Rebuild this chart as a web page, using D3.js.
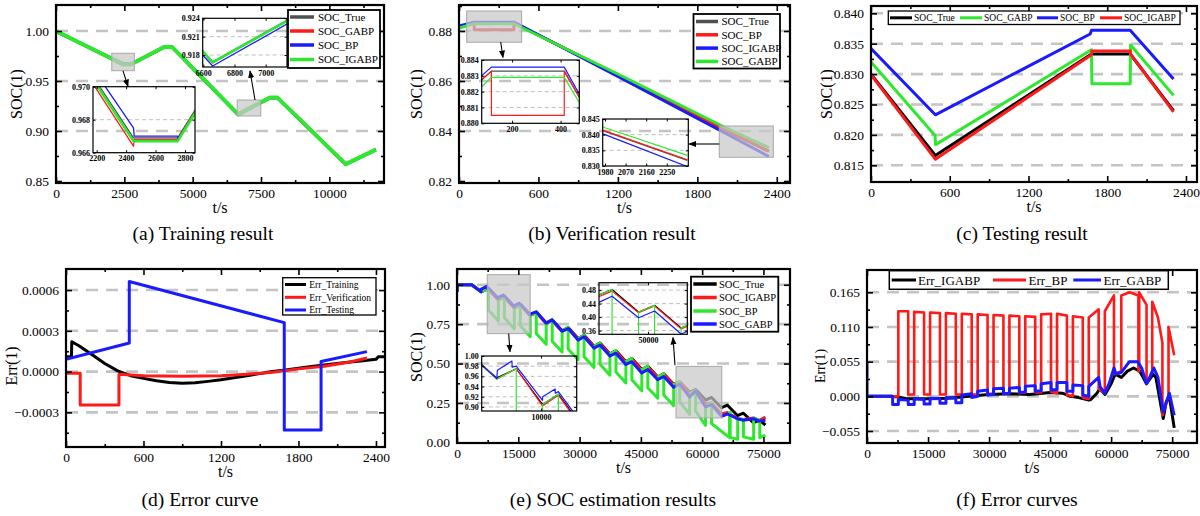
<!DOCTYPE html>
<html><head><meta charset="utf-8">
<script src="https://cdn.jsdelivr.net/npm/d3@7"></script>
<style>body{margin:0;background:#fff;}svg{display:block;}</style>
</head><body>
<script>
const FONT='"Liberation Serif","Times New Roman",serif';
const C_RED='#ff1a1a', C_BLUE='#1a1aff', C_GREEN='#2ee82e', C_BLACK='#000', C_GRAY='#4f4f4f';

// ---------------- (a) Training result ----------------
const aXTicks=[0,2500,5000,7500,10000];
const aXMinor=[1250,3750,6250,8750,11250];
const aYTicks=[0.85,0.90,0.95,1.00];
const aYMinor=[0.875,0.925,0.975];
const aTrue=[[0,1.0],[2450,0.9669],[2750,0.9669],[3950,0.9840],[4250,0.9840],[6660,0.9169],[7830,0.9335],[8100,0.9335],[10600,0.8670],[11700,0.8815]];
const aGABP=[[0,1.0],[2450,0.9664],[2455,0.9668],[2750,0.9668],[3950,0.9839],[4250,0.9839],[6660,0.9167],[7830,0.9334],[8100,0.9334],[10600,0.8668],[11700,0.8814]];
const aBP=[[0,0.9995],[2450,0.9675],[2455,0.9670],[2750,0.9670],[2755,0.9668],[3950,0.9837],[4250,0.9837],[6660,0.9162],[7830,0.9330],[8100,0.9330],[10600,0.8665],[11700,0.8810]];
const aIGABP=[[0,1.0],[2450,0.9667],[2750,0.9667],[3950,0.9839],[4250,0.9839],[6660,0.9168],[7830,0.9334],[8100,0.9334],[10600,0.8669],[11700,0.8814]];
const aLegend=['SOC_True','SOC_GABP','SOC_BP','SOC_IGABP'];

// ---------------- (b) Verification result ----------------
const bXTicks=[0,600,1200,1800,2400];
const bXMinor=[300,900,1500,2100];
const bYTicks=[0.82,0.84,0.86,0.88];
const bYMinor=[0.83,0.85,0.87,0.89];
const bTrue=[[0,0.8817],[115,0.8833],[415,0.8833],[1200,0.8623],[1980,0.8410],[2340,0.8318]];
const bBP=[[0,0.8817],[115,0.8833],[115,0.8805],[415,0.8805],[415,0.8833],[1200,0.8624],[1980,0.8412],[2340,0.8320]];
const bIGABP=[[0,0.8820],[115,0.88355],[415,0.88355],[1200,0.8618],[1980,0.8400],[2340,0.8298]];
const bGABP=[[0,0.8812],[115,0.8829],[415,0.8829],[1200,0.8628],[1980,0.8422],[2340,0.8334]];
const bLegend=['SOC_True','SOC_BP','SOC_IGABP','SOC_GABP'];

// ---------------- (c) Testing result ----------------
const cXTicks=[0,600,1200,1800,2400];
const cXMinor=[300,900,1500,2100];
const cYTicks=[0.815,0.820,0.825,0.830,0.835,0.840];
const cYMinor=[0.8175,0.8225,0.8275,0.8325,0.8375];
const cTrue=[[0,0.8300],[490,0.8166],[1680,0.8333],[1975,0.8333],[2305,0.8240]];
const cGABP=[[0,0.8320],[488,0.8199],[492,0.8184],[1680,0.8340],[1683,0.8284],[1975,0.8284],[1978,0.8348],[2305,0.8265]];
const cBP=[[0,0.8342],[490,0.8233],[1670,0.8366],[1680,0.8372],[1975,0.8372],[2305,0.8292]];
const cIGABP=[[0,0.8299],[490,0.8160],[1680,0.8332],[1683,0.8338],[1975,0.8338],[1978,0.8333],[2305,0.8238]];
const cLegend=['SOC_True','SOC_GABP','SOC_BP','SOC_IGABP'];

// ---------------- (d) Error curve ----------------
const dXTicks=[0,600,1200,1800,2400];
const dXMinor=[300,900,1500,2100];
const dYTicks=[-0.0003,0,0.0003,0.0006];
const dYMinor=[-0.00045,-0.00015,0.00015,0.00045];
const dTraining=[[0,0.00011],[42,0.00011],[45,0.00022],[100,0.00019],[200,0.000125],[300,0.00006],[400,0.000005],[500,-0.00003],[600,-0.00005],[700,-0.000068],[800,-0.00008],[900,-0.000085],[1000,-0.000082],[1100,-0.000072],[1200,-0.00006],[1300,-0.000045],[1400,-0.00003],[1500,-0.000015],[1600,0],[1700,0.000012],[1800,0.000025],[1900,0.000037],[2000,0.000048],[2100,0.00006],[2200,0.00007],[2300,0.00008],[2400,0.00009],[2420,0.00011],[2470,0.00011]];
const dVerification=[[0,-0.000012],[110,-0.000012],[110,-0.000245],[410,-0.000245],[410,-0.00002],[600,-0.00003],[900,-0.000035],[1200,-0.00003],[1400,-0.00002],[1600,-0.000005],[1800,0.00002],[2000,0.00004],[2200,0.00007],[2330,0.0001]];
const dTesting=[[0,0.00009],[490,0.00021],[490,0.000663],[1690,0.00036],[1690,-0.00043],[1975,-0.00043],[1975,0.000074],[2330,0.000147]];
const dLegend=['Err_Training','Err_Verification','Err_Testing'];

// ---------------- (e) SOC estimation results ----------------
const eXTicks=[0,15000,30000,45000,60000,75000];
const eXMinor=[7500,22500,37500,52500,67500];
const eYTicks=[0,0.25,0.5,0.75,1.0];
const eYMinor=[0.125,0.375,0.625,0.875];
const eTrue=[[0,0.955],[150,1.0],[3600,1.0],[5900,0.957],[7700,0.975],[10130,0.905],[11600,0.925],[14030,0.855],[15500,0.875],[17930,0.806],[19400,0.826],[21830,0.757],[23300,0.777],[25730,0.708],[27200,0.728],[29630,0.659],[31100,0.679],[33530,0.610],[35000,0.630],[37430,0.561],[38900,0.581],[41330,0.512],[42800,0.532],[45230,0.462],[46700,0.482],[49130,0.415],[50600,0.435],[53030,0.368],[54500,0.385],[56930,0.318],[58400,0.335],[60830,0.268],[62300,0.285],[64730,0.220],[66200,0.236],[68630,0.170],[70100,0.185],[72530,0.125],[74000,0.140],[75500,0.110]];
const eIGABP=[[0,0.955],[150,1.0],[3600,1.0],[5900,0.955],[7700,0.975],[10130,0.902],[11600,0.923],[14030,0.852],[15500,0.873],[17930,0.803],[19400,0.824],[21830,0.754],[23300,0.774],[25730,0.704],[27200,0.724],[29630,0.655],[31100,0.675],[33530,0.606],[35000,0.626],[37430,0.557],[38900,0.577],[41330,0.507],[42800,0.527],[45230,0.457],[46700,0.477],[49130,0.413],[50600,0.433],[53030,0.365],[54500,0.385],[56930,0.315],[58400,0.325],[60830,0.245],[62300,0.250],[64730,0.180],[66200,0.190],[68630,0.150],[70100,0.145],[72530,0.155],[74000,0.140],[75500,0.160]];
const eBP=[[0,0.955],[150,1.0],[3600,1.0],[5900,0.955],[7700,0.975],[7700,0.840],[10130,0.770],[10130,0.905],[11600,0.925],[11600,0.790],[14030,0.720],[14030,0.855],[15500,0.875],[15500,0.740],[17930,0.671],[17930,0.806],[19400,0.826],[19400,0.691],[21830,0.622],[21830,0.757],[23300,0.777],[23300,0.642],[25730,0.573],[25730,0.708],[27200,0.728],[27200,0.593],[29630,0.524],[29630,0.659],[31100,0.679],[31100,0.544],[33530,0.475],[33530,0.610],[35000,0.630],[35000,0.495],[37430,0.426],[37430,0.561],[38900,0.581],[38900,0.446],[41330,0.377],[41330,0.512],[42800,0.532],[42800,0.397],[45230,0.327],[45230,0.462],[46700,0.482],[46700,0.347],[49130,0.280],[49130,0.415],[50600,0.435],[50600,0.300],[53030,0.233],[53030,0.368],[54500,0.385],[54500,0.258],[56930,0.178],[56930,0.308],[58400,0.330],[58400,0.200],[60830,0.108],[60830,0.233],[62300,0.250],[62300,0.120],[66700,0.030],[66700,0.190],[66860,0.190],[66860,0.030],[68700,0.020],[68700,0.150],[70100,0.145],[70100,0.035],[72600,0.020],[72600,0.155],[74100,0.140],[74100,0.030],[75500,0.045]];
const eGABP=[[0,0.955],[150,1.0],[3600,1.0],[5900,0.955],[5950,0.972],[7300,0.990],[7320,0.978],[7700,0.980],[10130,0.913],[10150,0.920],[11300,0.935],[11320,0.927],[11600,0.930],[14030,0.860],[14050,0.868],[15200,0.882],[15220,0.875],[15500,0.878],[17930,0.810],[17950,0.815],[19400,0.828],[21830,0.757],[23300,0.777],[25730,0.705],[27200,0.722],[29630,0.649],[31100,0.670],[33530,0.598],[35000,0.618],[37430,0.548],[38900,0.566],[41330,0.494],[42800,0.512],[45230,0.440],[46700,0.462],[49130,0.398],[50600,0.418],[53030,0.350],[54500,0.370],[56930,0.288],[58400,0.325],[60830,0.225],[62300,0.240],[64730,0.165],[66200,0.180],[68630,0.150],[70100,0.140],[72530,0.150],[74000,0.135],[75500,0.140]];
const eLegend=['SOC_True','SOC_IGABP','SOC_BP','SOC_GABP'];

// ---------------- (f) Error curves ----------------
const fXTicks=[0,15000,30000,45000,60000,75000];
const fXMinor=[7500,22500,37500,52500,67500];
const fYTicks=[-0.055,0,0.055,0.110,0.165];
const fYMinor=[-0.0275,0.0275,0.0825,0.1375];
const fIGABP=[[0,0],[6000,0],[7700,-0.001],[10000,-0.004],[15000,-0.004],[20000,-0.003],[25000,0],[30000,0.003],[35000,0.004],[40000,0.003],[45000,0.006],[48000,0.005],[50000,0.0],[52000,-0.002],[54500,-0.006],[55000,-0.005],[56500,0.005],[57200,0.012],[58500,0.003],[60000,0.02],[61000,0.035],[62500,0.03],[64000,0.04],[65500,0.045],[67000,0.04],[68700,0.02],[70300,0.035],[71000,0.03],[72800,-0.035],[73500,-0.01],[74300,0.0],[75500,-0.05]];
const fBP=[[0,0],[7700,0],[7700,0.135],[10130,0.135],[10130,0.003],[11600,0.003],[11600,0.134],[14030,0.133],[14030,0.003],[15500,0.003],[15500,0.133],[17930,0.132],[17930,0.003],[19400,0.003],[19400,0.132],[21830,0.131],[21830,0.003],[23300,0.003],[23300,0.131],[25730,0.130],[25730,0.003],[27200,0.003],[27200,0.130],[29630,0.129],[29630,0.004],[31100,0.004],[31100,0.129],[33530,0.128],[33530,0.004],[35000,0.005],[35000,0.128],[37430,0.127],[37430,0.005],[38900,0.006],[38900,0.127],[41330,0.126],[41330,0.006],[42800,0.006],[42800,0.130],[45230,0.131],[45230,0.007],[46700,0.005],[46700,0.131],[49130,0.128],[49130,0.002],[50600,0],[50600,0.127],[53030,0.125],[53030,-0.002],[54500,-0.004],[54500,0.125],[56930,0.138],[56930,0.012],[58450,0.005],[58450,0.135],[60700,0.160],[60700,0.035],[62500,0.040],[62500,0.160],[64500,0.165],[66700,0.160],[66700,0.040],[66900,0.040],[66900,0.165],[68700,0.145],[68700,0.020],[70100,0.040],[70100,0.150],[71500,0.125],[72600,0.085],[72600,-0.030],[74100,0],[74100,0.110],[75500,0.065]];
const fGABP=[[0,0.055],[0,0],[6300,0],[6300,-0.013],[7700,-0.013],[7700,-0.005],[10130,-0.006],[10130,-0.013],[11600,-0.013],[11600,-0.004],[14030,-0.005],[14030,-0.012],[15500,-0.012],[15500,-0.003],[17930,-0.004],[17930,-0.011],[19400,-0.011],[19400,-0.002],[21830,-0.003],[21830,-0.010],[23300,-0.010],[23300,0.002],[25730,0.004],[25730,-0.002],[27200,0.0],[27200,0.008],[29630,0.010],[29630,0.002],[31100,0.003],[31100,0.012],[33530,0.013],[33530,0.004],[35000,0.005],[35000,0.013],[37430,0.014],[37430,0.006],[38900,0.007],[38900,0.016],[41330,0.017],[41330,0.008],[42800,0.009],[42800,0.020],[45230,0.022],[45230,0.010],[46700,0.011],[46700,0.022],[49130,0.022],[49130,0.008],[50600,0.008],[50600,0.018],[53030,0.017],[53030,0.002],[54500,0.0],[54500,0.016],[56930,0.030],[57300,0.015],[58450,0.005],[59500,0.020],[60700,0.045],[61200,0.035],[62500,0.038],[64500,0.055],[66500,0.055],[67500,0.045],[68700,0.020],[69500,0.030],[70500,0.045],[71500,0.030],[72800,-0.025],[73500,-0.010],[74300,0.005],[75500,-0.030]];
const fLegend=['Err_IGABP','Err_BP','Err_GABP'];

const captions=['(a) Training result','(b) Verification result','(c) Testing result','(d) Error curve','(e) SOC estimation results','(f) Error curves'];

// ======================================================
const svg=d3.select('body').append('svg').attr('width',1200).attr('height',516);
svg.append('rect').attr('width',1200).attr('height',516).attr('fill','#fff');
const defs=svg.append('defs');
defs.append('marker').attr('id','arr').attr('viewBox','0 0 10 10').attr('refX',9).attr('refY',5)
  .attr('markerWidth',7).attr('markerHeight',7).attr('orient','auto')
  .append('path').attr('d','M0,1 L10,5 L0,9 Z').attr('fill','#000');
let clipN=0;

function axes(g,x,y,p,o){
  const mk=(gen,vals,size,fmt,tr,pad)=>{
    const a=g.append('g').attr('transform',tr).call(gen.tickValues(vals).tickSize(-size).tickPadding(pad).tickFormat(fmt));
    a.select('.domain').remove();
    a.selectAll('line').attr('stroke','#000').attr('stroke-width',o.lw);
    a.selectAll('text').attr('font-family',FONT).attr('font-size',o.fs).attr('font-weight',o.bold?'bold':'normal').attr('fill','#000');
    return a;
  };
  const none=()=>'';
  mk(d3.axisBottom(x),p.xTicks,o.maj,p.xFmt,`translate(0,${p.B})`,o.padX);
  mk(d3.axisTop(x),p.xTicks,o.maj,none,`translate(0,${p.T})`,0);
  mk(d3.axisLeft(y),p.yTicks,o.maj,p.yFmt,`translate(${p.L},0)`,o.padY);
  mk(d3.axisRight(y),p.yTicks,o.maj,none,`translate(${p.R},0)`,0);
  if(p.xMinor){
    mk(d3.axisBottom(x),p.xMinor.filter(v=>v<=p.xDomain[1]),o.min,none,`translate(0,${p.B})`,0);
    mk(d3.axisTop(x),p.xMinor.filter(v=>v<=p.xDomain[1]),o.min,none,`translate(0,${p.T})`,0);
  }
  if(p.yMinor){
    mk(d3.axisLeft(y),p.yMinor,o.min,none,`translate(${p.L},0)`,0);
    mk(d3.axisRight(y),p.yMinor,o.min,none,`translate(${p.R},0)`,0);
  }
  g.append('rect').attr('x',p.L).attr('y',p.T).attr('width',p.R-p.L).attr('height',p.B-p.T)
    .attr('fill','none').attr('stroke','#000').attr('stroke-width',o.frame);
}

function drawSeries(g,x,y,series,cid,wKey){
  const line=d3.line().x(d=>x(d[0])).y(d=>y(d[1]));
  const sg=g.append('g').attr('clip-path',`url(#${cid})`);
  series.forEach(s=>sg.append('path').attr('d',line(s.data)).attr('fill','none')
    .attr('stroke',s.color).attr('stroke-width',s[wKey]).attr('stroke-linejoin','round'));
}

function panel(p){
  const x=d3.scaleLinear().domain(p.xDomain).range([p.L,p.R]);
  const y=d3.scaleLinear().domain(p.yDomain).range([p.B,p.T]);
  const g=svg.append('g');
  const cid='c'+(clipN++);
  defs.append('clipPath').attr('id',cid).append('rect').attr('x',p.L).attr('y',p.T).attr('width',p.R-p.L).attr('height',p.B-p.T);
  g.append('g').selectAll('line').data(p.grid).join('line')
    .attr('x1',p.L).attr('x2',p.R).attr('y1',d=>y(d)).attr('y2',d=>y(d))
    .attr('stroke','#c4c4c4').attr('stroke-width',2.6).attr('stroke-dasharray','12,8');
  drawSeries(g,x,y,p.series,cid,'w');
  (p.boxes||[]).forEach(b=>g.append('rect').attr('x',x(b[0])).attr('y',y(b[3])).attr('width',x(b[1])-x(b[0])).attr('height',y(b[2])-y(b[3]))
    .attr('fill','#c8c8c8').attr('fill-opacity',0.72).attr('stroke','#a8a8a8').attr('stroke-width',1));
  (p.arrows||[]).forEach(a=>g.append('line').attr('x1',x(a[0])).attr('y1',y(a[1])).attr('x2',x(a[2])).attr('y2',y(a[3]))
    .attr('stroke','#000').attr('stroke-width',1.1).attr('marker-end','url(#arr)'));
  axes(g,x,y,p,{maj:6,min:3,lw:1.6,fs:13.5,padX:5,padY:7,frame:2.2});
  // axis titles
  g.append('text').attr('x',(p.L+p.R)/2).attr('y',p.B+30).attr('text-anchor','middle')
    .attr('font-family',FONT).attr('font-size',16).text('t/s');
  g.append('text').attr('transform',`translate(${p.ylx},${p.yly}) rotate(-90)`).attr('text-anchor','middle')
    .attr('dy','0.35em').attr('font-family',FONT).attr('font-size',p.ylfs||16).text(p.ylabel);
  g.append('text').attr('x',p.capX).attr('y',p.capY).attr('text-anchor','middle')
    .attr('font-family',FONT).attr('font-size',19.5).text(p.caption);
  (p.insets||[]).forEach(ins=>inset(ins,p.series));
  if(p.legend) legend(p.legend,p.series);
  return {x,y};
}

function inset(q,series){
  const x=d3.scaleLinear().domain(q.xDomain).range([q.L,q.R]);
  const y=d3.scaleLinear().domain(q.yDomain).range([q.B,q.T]);
  const g=svg.append('g');
  const cid='c'+(clipN++);
  defs.append('clipPath').attr('id',cid).append('rect').attr('x',q.L).attr('y',q.T).attr('width',q.R-q.L).attr('height',q.B-q.T);
  g.append('g').selectAll('line').data(q.grid).join('line')
    .attr('x1',q.L).attr('x2',q.R).attr('y1',d=>y(d)).attr('y2',d=>y(d))
    .attr('stroke','#b8b8b8').attr('stroke-width',0.9).attr('stroke-dasharray','4,3');
  drawSeries(g,x,y,series,cid,'wi');
  axes(g,x,y,q,{maj:2.5,min:1.5,lw:1,fs:8,bold:true,padX:3,padY:3,frame:1.2});
}

function legend(L,series){
  const g=svg.append('g');
  g.append('rect').attr('x',L.x).attr('y',L.y).attr('width',L.w).attr('height',L.h)
    .attr('fill','#fff').attr('stroke','#000').attr('stroke-width',L.bw||1.5);
  L.items.forEach((it,i)=>{
    const s=series[L.order[i]];
    g.append('line').attr('x1',it[0]).attr('x2',it[1]).attr('y1',it[3]).attr('y2',it[3])
      .attr('stroke',s.color).attr('stroke-width',L.lw||3);
    g.append('text').attr('x',it[2]).attr('y',it[3]).attr('dy','0.35em')
      .attr('font-family',FONT).attr('font-size',L.fs).text(L.labels[i]);
  });
}

const f2=d3.format('.2f'), f3=d3.format('.3f'), f4=d3.format('.4f'), fd=d3.format('d');

// (a)
panel({L:56,R:384,T:5,B:183,xDomain:[0,12000],yDomain:[0.848,1.026],
  xTicks:aXTicks,xMinor:aXMinor,yTicks:aYTicks,yMinor:aYMinor,xFmt:fd,yFmt:f2,grid:[0.90,0.95,1.00],
  series:[{data:aTrue,color:C_GRAY,w:3,wi:1.3},{data:aGABP,color:C_RED,w:3,wi:1.3},{data:aBP,color:C_BLUE,w:3,wi:1.3},{data:aIGABP,color:C_GREEN,w:4,wi:2.6}],
  boxes:[[2040,2865,0.9603,0.9777],[6630,7490,0.915,0.931]],
  arrows:[[2451,0.9602,2634,0.9445],[7281,0.931,7098,0.960]],
  ylabel:'SOC(1)',ylx:16,yly:94,caption:captions[0],capX:203,capY:240,
  insets:[
    {L:93,R:195,T:86.7,B:152.7,xDomain:[2175,2868],yDomain:[0.966,0.970],xTicks:[2200,2400,2600,2800],yTicks:[0.966,0.968,0.970],xFmt:fd,yFmt:f3,grid:[0.966,0.968]},
    {L:202.7,R:287,T:18.3,B:67,xDomain:[6596,7137],yDomain:[0.91604,0.924],xTicks:[6600,6800,7000],yTicks:[0.918,0.921,0.924],xFmt:fd,yFmt:f3,grid:[0.918,0.921]}
  ],
  legend:{x:288,y:10,w:92,h:58,fs:11,lw:3.5,bw:1.8,order:[0,1,2,3],labels:aLegend,
    items:[[290,314,318,17],[290,314,318,31],[290,314,318,45],[290,314,318,59.5]]}
});

// (b)
panel({L:459,R:790,T:5,B:183,xDomain:[0,2500],yDomain:[0.8192,0.8904],
  xTicks:bXTicks,xMinor:bXMinor,yTicks:bYTicks,yMinor:bYMinor,xFmt:fd,yFmt:f2,grid:[0.84,0.86,0.88],
  series:[{data:bTrue,color:C_GRAY,w:3,wi:1.2},{data:bBP,color:C_RED,w:3,wi:1.2},{data:bIGABP,color:C_BLUE,w:3,wi:1.2},{data:bGABP,color:C_GREEN,w:3,wi:1.2}],
  boxes:[[58,473,0.8755,0.888],[1966,2374,0.8295,0.842]],
  arrows:[[315,0.8756,332,0.8694],[1966,0.8348,1738,0.8348]],
  ylabel:'SOC(1)',ylx:416,yly:94,caption:captions[1],capX:612,capY:240,
  insets:[
    {L:481.7,R:579.3,T:60,B:123.3,xDomain:[75,477],yDomain:[0.880,0.884],xTicks:[200,400],yTicks:[0.880,0.881,0.882,0.883,0.884],xFmt:fd,yFmt:f3,grid:[0.881,0.882,0.883]},
    {L:602.7,R:688.3,T:119,B:166,xDomain:[1970,2344],yDomain:[0.830,0.845],xTicks:[1980,2070,2160,2250],yTicks:[0.830,0.835,0.840,0.845],xFmt:fd,yFmt:f3,grid:[0.835,0.840]}
  ],
  legend:{x:693.5,y:14,w:86.5,h:54.5,fs:11,lw:3.5,bw:1.8,order:[0,1,2,3],labels:bLegend,
    items:[[696,718,721.5,21.5],[696,718,721.5,34.8],[696,718,721.5,48.1],[696,718,721.5,61.4]]}
});

// (c)
panel({L:871,R:1197,T:6,B:182,xDomain:[0,2484],yDomain:[0.81225,0.8412],
  xTicks:cXTicks,xMinor:cXMinor,yTicks:cYTicks,yMinor:cYMinor,xFmt:fd,yFmt:f3,grid:[0.815,0.820,0.825,0.830,0.835,0.840],
  series:[{data:cTrue,color:C_BLACK,w:3},{data:cGABP,color:C_GREEN,w:3},{data:cBP,color:C_BLUE,w:3},{data:cIGABP,color:C_RED,w:3}],
  ylabel:'SOC(1)',ylx:826,yly:94,caption:captions[2],capX:1022,capY:240,
  legend:{x:888.3,y:11,w:291.7,h:13.5,fs:9.5,lw:3,bw:1.3,order:[0,1,2,3],labels:cLegend,
    items:[[890,912,914,17.8],[960,982,984,17.8],[1037,1058,1060,17.8],[1100,1122,1124,17.8]]}
});

// (d)
panel({L:66,R:385,T:269,B:447,xDomain:[0,2470],yDomain:[-0.000555,0.000755],
  xTicks:dXTicks,xMinor:dXMinor,yTicks:dYTicks,yMinor:dYMinor,xFmt:fd,yFmt:f4,grid:[-0.0003,0,0.0003,0.0006],
  series:[{data:dTraining,color:C_BLACK,w:3},{data:dVerification,color:C_RED,w:3},{data:dTesting,color:C_BLUE,w:3}],
  ylabel:'Err(1)',ylx:11,yly:366,caption:captions[3],capX:200,capY:506,
  legend:{x:282.7,y:277.7,w:93.3,h:37.3,fs:9.5,lw:3,bw:1.3,order:[0,1,2],labels:dLegend,
    items:[[285,306,309.3,284.5],[285,306,309.3,297.3],[285,306,309.3,310]]}
});

// (e)
panel({L:457,R:790,T:269,B:443,xDomain:[0,81500],yDomain:[-0.004,1.1],
  xTicks:eXTicks,xMinor:eXMinor,yTicks:eYTicks,yMinor:eYMinor,xFmt:fd,yFmt:f2,grid:[0.25,0.5,0.75,1.0],
  series:[{data:eTrue,color:C_BLACK,w:3,wi:1.2},{data:eIGABP,color:C_RED,w:3,wi:1.2},{data:eBP,color:C_GREEN,w:3,wi:1.2},{data:eGABP,color:C_BLUE,w:3,wi:1.2}],
  boxes:[[7400,17900,0.69,1.064],[53600,64800,0.155,0.482]],
  arrows:[[12650,0.69,12970,0.575],[53350,0.49,52870,0.665]],
  ylabel:'SOC(1)',ylx:416.5,yly:357,caption:captions[4],capX:613,capY:506,
  insets:[
    {L:481.7,R:576.7,T:356,B:411,xDomain:[4500,13300],yDomain:[0.892,1.0],xTicks:[10000],yTicks:[0.90,0.92,0.94,0.96,0.98,1.00],xFmt:fd,yFmt:f2,grid:[0.90,0.92,0.94,0.96,0.98]},
    {L:599,R:687.3,T:282.7,B:334.3,xDomain:[45500,53600],yDomain:[0.349,0.502],xTicks:[50000],yTicks:[0.36,0.40,0.44,0.48],xFmt:fd,yFmt:f2,grid:[0.36,0.40,0.44,0.48]}
  ],
  legend:{x:691,y:276.7,w:87.3,h:55,fs:10.5,lw:3.5,bw:1.8,order:[0,1,2,3],labels:eLegend,
    items:[[693.3,716.7,719,284],[693.3,716.7,719,297.5],[693.3,716.7,719,311],[693.3,716.7,719,324]]}
});

// (f)
panel({L:867,R:1197,T:270,B:443,xDomain:[0,81100],yDomain:[-0.074,0.2004],
  xTicks:fXTicks,xMinor:fXMinor,yTicks:fYTicks,yMinor:fYMinor,xFmt:fd,yFmt:f3,grid:[-0.055,0,0.055,0.110,0.165],
  series:[{data:fIGABP,color:C_BLACK,w:3},{data:fBP,color:C_RED,w:2.6},{data:fGABP,color:C_BLUE,w:3}],
  ylabel:'Err(1)',ylx:820,yly:366,ylfs:14,caption:captions[5],capX:1017,capY:506,
  legend:{x:889.3,y:270.7,w:279,h:18.6,fs:13,lw:3,bw:1.5,order:[0,1,2],labels:fLegend,
    items:[[891.7,916,918,280],[993,1026,1028.5,280],[1073.3,1101,1103.5,280]]}
});
</script>
</body></html>
